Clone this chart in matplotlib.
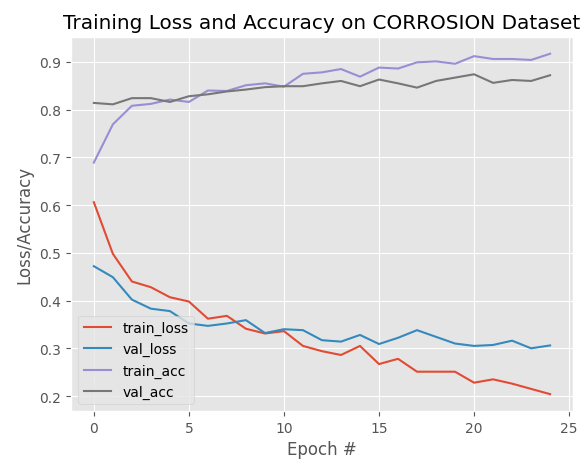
import matplotlib
matplotlib.use("Agg")
import matplotlib.pyplot as plt
import numpy as np

plt.style.use("ggplot")

epochs = np.arange(0, 25)
train_loss = [0.606, 0.498, 0.440, 0.428, 0.407, 0.398, 0.362, 0.368, 0.341, 0.331,
              0.336, 0.305, 0.294, 0.286, 0.305, 0.267, 0.278, 0.251, 0.251, 0.251,
              0.228, 0.235, 0.226, 0.215, 0.204]
val_loss = [0.472, 0.449, 0.402, 0.383, 0.378, 0.352, 0.347, 0.352, 0.359, 0.332,
            0.340, 0.338, 0.317, 0.314, 0.328, 0.309, 0.322, 0.338, 0.324, 0.310,
            0.305, 0.307, 0.316, 0.300, 0.306]
train_acc = [0.689, 0.769, 0.808, 0.812, 0.821, 0.816, 0.840, 0.839, 0.851, 0.855,
             0.848, 0.875, 0.878, 0.885, 0.869, 0.888, 0.886, 0.899, 0.901, 0.896,
             0.912, 0.906, 0.906, 0.904, 0.917]
val_acc = [0.814, 0.811, 0.824, 0.824, 0.816, 0.828, 0.832, 0.838, 0.842, 0.847,
           0.849, 0.849, 0.855, 0.860, 0.849, 0.863, 0.855, 0.846, 0.860, 0.867,
           0.874, 0.856, 0.862, 0.860, 0.872]

fig = plt.figure(figsize=(5.87, 4.6), dpi=100)
ax = fig.add_subplot(111)
ax.plot(epochs, train_loss, label="train_loss")
ax.plot(epochs, val_loss, label="val_loss")
ax.plot(epochs, train_acc, label="train_acc")
ax.plot(epochs, val_acc, label="val_acc")
ax.set_title("Training Loss and Accuracy on CORROSION Dataset")
ax.set_xlabel("Epoch #")
ax.set_ylabel("Loss/Accuracy")
ax.legend(loc="lower left")
fig.subplots_adjust(left=0.121, right=0.976, top=0.918, bottom=0.104)
fig.savefig("out.png", dpi=100)
